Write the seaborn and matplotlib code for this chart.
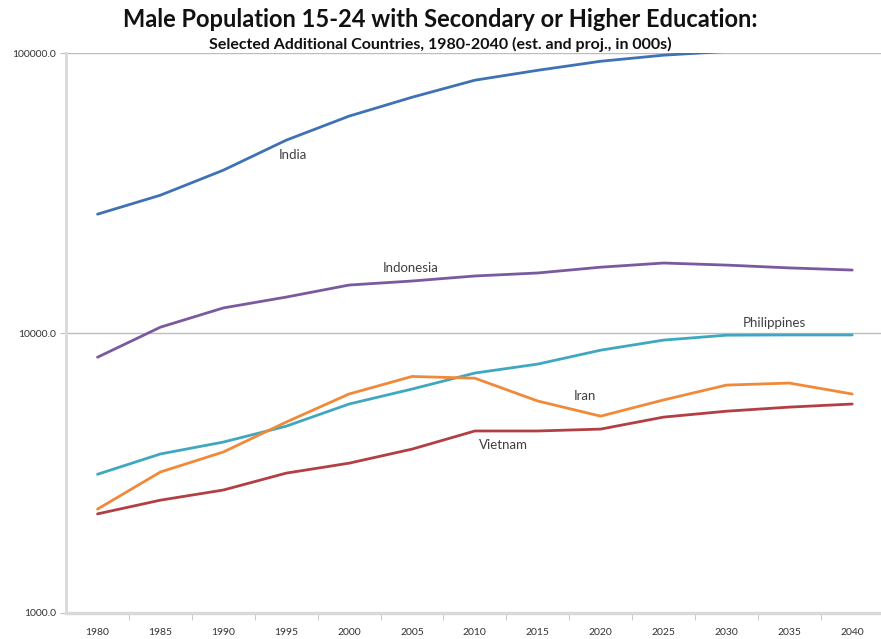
import numpy as np
import pandas as pd
import matplotlib
matplotlib.use("Agg")
import matplotlib.pyplot as plt
import seaborn as sns

# ---- data (thousands) ----
years = ["1980", "1985", "1990", "1995", "2000", "2005", "2010",
         "2015", "2020", "2025", "2030", "2035", "2040"]

india = [26600, 31100, 38200, 48900, 59600, 69600, 80100,
         86900, 93600, 98400, 101500, 103500, 104500]
indonesia = [8200, 10500, 12300, 13450, 14850, 15350, 16000,
             16400, 17200, 17800, 17500, 17100, 16800]
philippines = [3130, 3700, 4080, 4650, 5580, 6310, 7200,
               7750, 8690, 9440, 9830, 9850, 9850]
iran = [2350, 3190, 3760, 4810, 6060, 7000, 6900,
        5720, 5050, 5770, 6520, 6630, 6060]
vietnam = [2260, 2530, 2750, 3160, 3430, 3850, 4470,
           4470, 4540, 5010, 5260, 5440, 5580]

countries = ["India", "Indonesia", "Philippines", "Iran", "Vietnam"]
colors = ["#3F72B5", "#7A5A9E", "#3FA8C0", "#F08A3A", "#B23F44"]

# label anchor points (category index, value)
label_x = [3.1, 4.98, 10.76, 7.75, 6.46]
label_y = [43200, 17100, 10900, 5950, 3980]

df = pd.DataFrame({
    "idx": list(range(len(years))) * len(countries),
    "value": india + indonesia + philippines + iran + vietnam,
    "country": [c for c in countries for _ in years],
})

sns.set_style("white")
plt.rcParams["font.family"] = ["Lato", "DejaVu Sans"]

fig = plt.figure(figsize=(8.81, 6.39), dpi=100)
ax = fig.add_axes([0.075, 0.0407, 0.928, 0.876])

sns.lineplot(data=df, x="idx", y="value", hue="country",
             palette=dict(zip(countries, colors)), linewidth=2.0,
             legend=False, ax=ax)

ax.set_yscale("log")
ax.set_ylim(1000, 100000)
ax.set_xlim(-0.5, len(years) - 0.5)

# y ticks
ax.set_yticks([1000, 10000, 100000])
ax.set_yticklabels(["1000.0", "10000.0", "100000.0"])
ax.yaxis.set_minor_locator(matplotlib.ticker.NullLocator())
ax.grid(axis="y", which="major", color="#BDBDBD", linewidth=1.0)
ax.tick_params(axis="y", labelsize=7.5, length=4, color="#BFBFBF",
               direction="out", left=True, pad=3, labelcolor="#333333")

# x ticks: labels at centers, marks between categories
ax.set_xticks(range(len(years)))
ax.set_xticklabels(years)
ax.set_xticks(np.arange(len(years)) + 0.5, minor=True)
ax.tick_params(axis="x", which="major", length=0, labelsize=7.5,
               pad=11, labelcolor="#333333")
ax.tick_params(axis="x", which="minor", length=5, color="#BFBFBF",
               direction="out", bottom=True)

ax.set_xlabel("")
ax.set_ylabel("")

for s in ["top", "right"]:
    ax.spines[s].set_visible(False)
ax.spines["left"].set_color("#D9D9D9")
ax.spines["left"].set_linewidth(2)
ax.spines["bottom"].set_color("#D9D9D9")
ax.spines["bottom"].set_linewidth(2.5)

for name, lx, ly in zip(countries, label_x, label_y):
    ax.text(lx, ly, name, ha="center", va="center", fontsize=9.5,
            color="#404040")

fig.text(0.5, 0.970, "Male Population 15-24 with Secondary or Higher Education:",
         ha="center", va="center", fontsize=17, fontweight="bold", color="#111111")
fig.text(0.5, 0.930, "Selected Additional Countries, 1980-2040 (est. and proj., in 000s)",
         ha="center", va="center", fontsize=11.5, fontweight="bold", color="#111111")

fig.savefig("out.png", dpi=100)
